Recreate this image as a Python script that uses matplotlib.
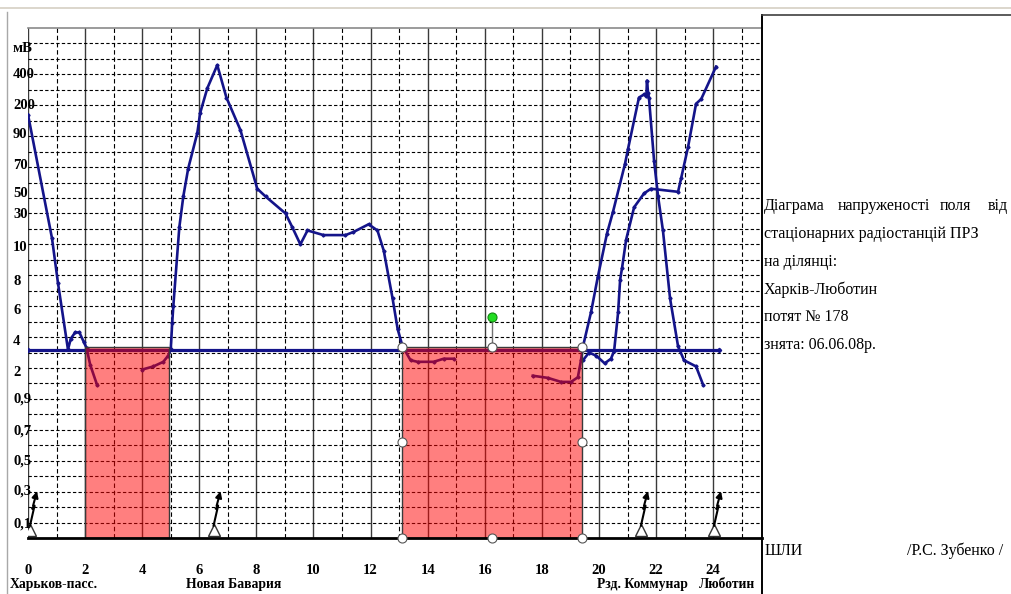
import numpy as np
import matplotlib
matplotlib.use('Agg')
import matplotlib.pyplot as plt
from matplotlib.lines import Line2D
from matplotlib.patches import Rectangle
from matplotlib.transforms import blended_transform_factory

W, H = 1011, 594
SERIF = ['Liberation Serif', 'DejaVu Serif']

# --- data ---------------------------------------------------------------
# y axis: chart's own nonlinear scale, labels placed on grid rows
y_labels = ['0,1', '0,3', '0,5', '0,7', '0,9', '2', '4', '6', '8', '10',
            '30', '50', '70', '90', '200', '400', 'мВ']
y_label_pos = [0.9, 3.05, 5.0, 6.9, 9.0, 10.7, 12.7, 14.7, 16.6, 18.8,
               20.9, 22.3, 24.1, 26.1, 28.0, 30.0, 31.7]

x_ticks = list(range(0, 25, 2))

stations = ['Харьков-пасс.', 'Новая Бавария', 'Рзд. Коммунар', 'Люботин']
station_x = [0.89, 7.21, 21.53, 24.5]
antenna_x = [0.07, 6.5, 21.47, 24.03]

threshold = 12.14
threshold_x = [0, 24.2]

# field strength traces (km, chart units)
a_x = [0, 0.84, 1.05, 1.4, 1.5, 1.65, 1.8, 1.95, 2.05, 2.18, 2.42]
a_y = [27.4, 19.4, 16.5, 12.2, 12.9, 13.3, 13.3, 12.7, 12.3, 11.2, 9.9]

b_x = [4.0, 4.39, 4.74, 4.91, 5.0, 5.05, 5.09, 5.3, 5.44, 5.61, 5.93, 6.03,
       6.28, 6.63, 6.95, 7.44, 8.03, 8.32, 9.02, 9.26, 9.54, 9.79, 10.35,
       11.12, 11.4, 11.93, 12.24, 12.46, 12.77, 12.95, 13.12, 13.4, 13.65,
       14.21, 14.56, 14.91]
b_y = [10.9, 11.1, 11.4, 11.8, 12.2, 13.9, 15.0, 20.1, 22.1, 23.9, 26.2, 27.5,
       29.1, 30.6, 28.5, 26.4, 22.6, 22.1, 21.0, 20.1, 19.0, 19.9, 19.6,
       19.6, 19.8, 20.3, 19.9, 18.6, 15.5, 13.5, 12.4, 11.5, 11.4,
       11.4, 11.6, 11.6]

c_x = [17.68, 18.21, 18.67, 19.02, 19.26, 19.37, 19.44, 19.72, 19.96, 20.28,
       20.49, 20.91, 21.02, 21.4, 21.58, 21.66, 21.68, 21.72, 21.75, 21.93,
       22.07, 22.24, 22.49, 22.77, 22.98, 23.4, 23.65]
c_y = [10.5, 10.36, 10.1, 10.1, 10.4, 11.5, 12.4, 14.6, 16.9, 19.7,
       21.1, 24.2, 25.2, 28.5, 28.7, 28.6, 29.6, 28.8, 28.5, 24.4,
       22.1, 19.9, 15.5, 12.4, 11.5, 11.1, 9.9]

d_x = [19.44, 19.65, 19.9, 20.2, 20.42, 20.53, 20.67, 20.74, 20.81, 20.95,
       21.23, 21.58, 21.82, 22.77, 22.88, 23.12, 23.4, 23.58, 24.1]
d_y = [11.5, 12.0, 11.8, 11.3, 11.6, 12.1, 14.6, 16.7, 17.5, 19.3,
       21.4, 22.3, 22.6, 22.4, 23.3, 25.3, 28.1, 28.4, 30.5]

# shaded intervals
zone_x0 = [2.0, 13.09]
zone_x1 = [4.95, 19.39]
zone_top = 12.38

panel_lines = ['стаціонарних радіостанцій ПРЗ', 'на ділянці:',
               'Харків-Люботин', 'потят № 178', 'знята: 06.06.08р.']
panel_first = ['Діаграма', 'напруженості', 'поля', 'від']

BLUE = '#14148a'

fig = plt.figure(figsize=(W / 100, H / 100), dpi=100)
fig.patch.set_facecolor('white')
ax = fig.add_axes([28 / W, (H - 538) / H, (762 - 28) / W, (538 - 28) / H])
ax.set_xlim(0, 25.71)
ax.set_ylim(0, 33.0)
ax.set_xticks([])
ax.set_yticks([])
for s in ax.spines.values():
    s.set_visible(False)

# grid
for xv in range(0, 26):
    if xv % 2 == 0:
        ax.axvline(xv, color='#3a3a3a', lw=1.0, zorder=1)
    else:
        ax.axvline(xv, color='black', lw=0.8, ls=(0, (4, 2.5)), zorder=1)
for yv in range(1, 33):
    ax.axhline(yv, color='black', lw=0.8, ls=(0, (3, 2)), zorder=1)
ax.axhline(33.0, color='#8a8a8a', lw=1.2, zorder=1, clip_on=False)
ax.axhline(0, color='black', lw=2.0, zorder=5, clip_on=False)

# traces
ax.plot(threshold_x, [threshold, threshold], color=BLUE, lw=2.3, marker='D',
        ms=2.2, zorder=2)
for xs, ys in [(a_x, a_y), (b_x, b_y), (c_x, c_y), (d_x, d_y)]:
    ax.plot(xs, ys, color=BLUE, lw=1.9, marker='D', ms=1.6, zorder=2)

# antennas
for bx in antenna_x:
    ax.plot([bx], [0.55], marker='^', ms=8, mfc='white', mec='#333333',
            mew=1.0, zorder=3)
    ax.plot([bx, bx + 0.16, bx + 0.08], [0.8, 2.1, 1.9], color='black',
            lw=1.5, zorder=3)
    ax.annotate('', xy=(bx + 0.27, 3.2), xytext=(bx + 0.08, 1.9),
                arrowprops=dict(arrowstyle='-|>', color='black', lw=1.5,
                                mutation_scale=9), zorder=3)

# shaded zones (semi-transparent, on top of the traces)
for x0, x1 in zip(zone_x0, zone_x1):
    ax.add_patch(Rectangle((x0, 0), x1 - x0, zone_top, facecolor='red',
                           alpha=0.5, edgecolor='none', zorder=4))
    ax.add_patch(Rectangle((x0, 0), x1 - x0, zone_top, facecolor='none',
                           edgecolor='#3a3a3a', lw=1.0, zorder=4))

# selection handles on the second zone
x0, x1 = zone_x0[1], zone_x1[1]
xm = (x0 + x1) / 2
ax.plot([xm, xm], [zone_top, zone_top + 1.9], color='#707070', lw=1.0, zorder=6)
ax.plot([xm], [zone_top + 1.9], marker='o', ms=6.5, mfc='#22dd22',
        mec='#118811', mew=0.8, zorder=7)
hx = [x0, xm, x1, x0, x1, x0, xm, x1]
hy = [zone_top, zone_top, zone_top, zone_top / 2, zone_top / 2, 0, 0, 0]
ax.plot(hx, hy, ls='none', marker='o', ms=6.5, mfc='white', mec='#555555',
        mew=0.8, zorder=7, clip_on=False)

# y labels
ty = blended_transform_factory(fig.transFigure, ax.transData)
for lab, yp in zip(y_labels, y_label_pos):
    ax.text(13 / W, yp, lab, transform=ty, ha='left', va='center',
            fontsize=10.5, fontweight='bold', family=SERIF, zorder=8)

# x labels and stations
tx = blended_transform_factory(ax.transData, fig.transFigure)
for xv in x_ticks:
    ax.text(xv, 1 - 574 / H, str(xv), transform=tx, ha='center',
            va='baseline', fontsize=10.5, fontweight='bold', family=SERIF,
            clip_on=False)
for name, sx in zip(stations, station_x):
    ax.text(sx, 1 - 588 / H, name, transform=tx, ha='center', va='baseline',
            fontsize=9.8, fontweight='bold', family=SERIF, clip_on=False)

# frame lines outside the plot
def fline(xs, ys, **kw):
    fig.add_artist(Line2D([x / W for x in xs], [1 - y / H for y in ys],
                          transform=fig.transFigure, **kw))

fline([0, W], [8, 8], color='#d6d0c4', lw=1.2)
fline([7, 7], [12, H], color='#a8a8a8', lw=1.0)
fline([762, 762], [15, H], color='black', lw=1.4)
fline([762, W], [15, 15], color='#404040', lw=1.2)

# right panel text
fx = [764, 838, 940, 1008]
for i, word in enumerate(panel_first):
    fig.text(fx[i] / W, 1 - 210 / H, word, ha='right' if i == 3 else 'left',
             va='baseline', fontsize=11.5, family=SERIF)
for i, line in enumerate(panel_lines):
    fig.text(764 / W, 1 - (238 + 27.8 * i) / H, line, ha='left',
             va='baseline', fontsize=11.5, family=SERIF)
fig.text(765 / W, 1 - 555 / H, 'ШЛИ', ha='left', va='baseline', fontsize=11.5,
         family=SERIF)
fig.text(1003 / W, 1 - 555 / H, '/Р.С. Зубенко /', ha='right', va='baseline',
         fontsize=11.5, family=SERIF)

fig.savefig('out.png', dpi=100)
